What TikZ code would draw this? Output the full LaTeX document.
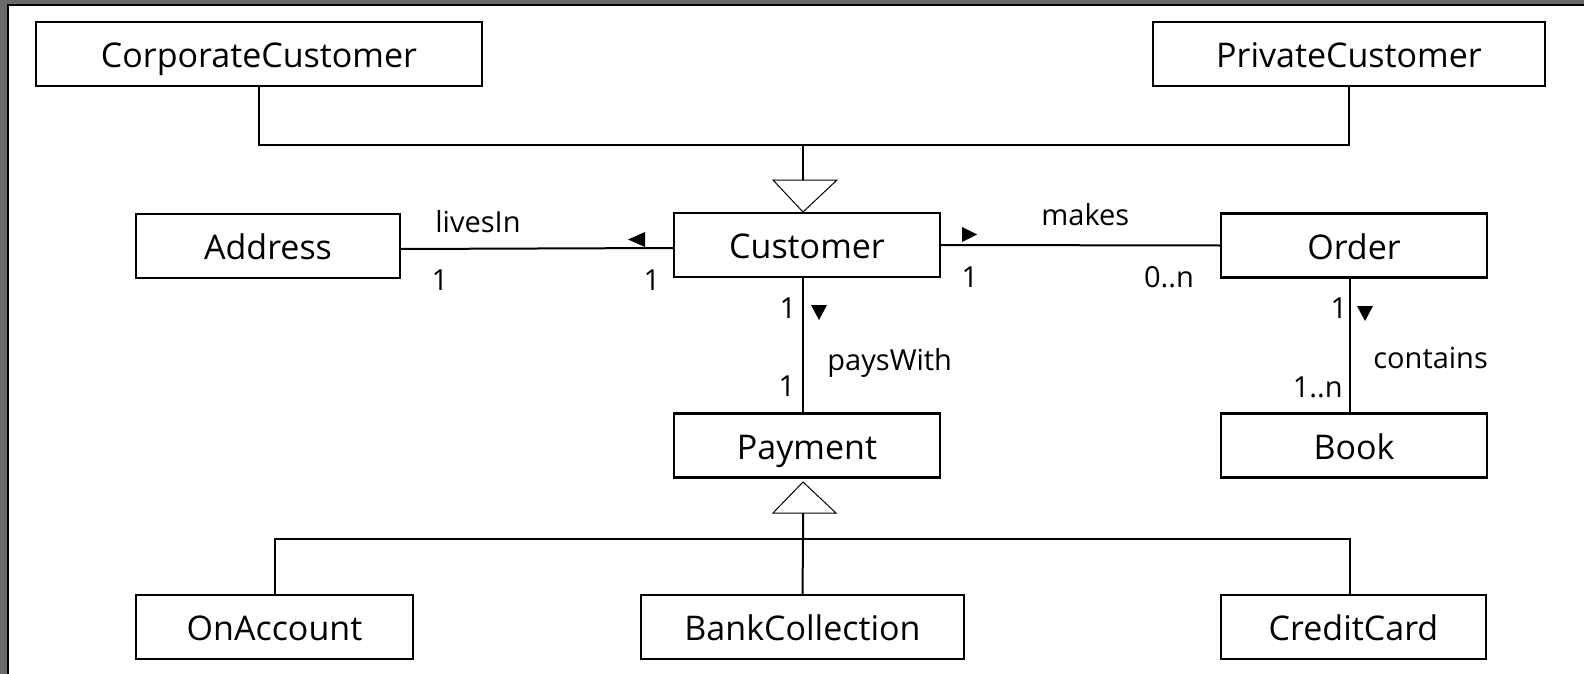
\documentclass[tikz,border=0pt]{standalone}
\usepackage{fontspec}
\setmainfont{Open Sans}
\definecolor{framegray}{HTML}{6A6A6A}
\begin{document}
\begin{tikzpicture}[x=0.5pt,y=-0.5pt,
  classbox/.style={draw,line width=1.2pt,minimum height=32pt,inner sep=0pt,text height=13.6pt,text depth=0pt,font=\fontsize{17}{20}\selectfont},
  conn/.style={line width=1pt},
  gen/.style={line width=0.5pt,fill=white},
  dirmark/.style={fill=black,draw=none},
  lbl/.style={inner sep=0pt,font=\fontsize{14.5}{17}\selectfont}]
\useasboundingbox (0,0) rectangle (1584,674);
\fill[white] (0,0) rectangle (1584,674);
\fill[framegray] (0,0) rectangle (1584,5);
\fill[framegray] (0,0) rectangle (8,674);
\draw[line width=1pt] (8,674) -- (8,5) -- (1584,5);

% classes
\node[classbox,minimum width=223pt] (corp) at (259,54) {CorporateCustomer};
\node[classbox,minimum width=196pt] (priv) at (1349,54) {PrivateCustomer};
\node[classbox,minimum width=132pt] (address) at (268,246) {Address};
\node[classbox,minimum width=133pt] (customer) at (807,245) {Customer};
\node[classbox,minimum width=133pt] (order) at (1354,245.5) {Order};
\node[classbox,minimum width=133pt] (payment) at (807,445.5) {Payment};
\node[classbox,minimum width=133pt] (book) at (1354,445.5) {Book};
\node[classbox,minimum width=138.5pt] (onacc) at (274.5,627) {OnAccount};
\node[classbox,minimum width=161.5pt] (bank) at (802.5,627) {BankCollection};
\node[classbox,minimum width=132.5pt] (credit) at (1353.5,627) {CreditCard};

% generalisation Customer
\coordinate (hubA) at (803,144.5);
\coordinate (triAbase) at (803,180);
\draw[conn] (corp.south) |- (hubA) -| (priv.south);
\draw[conn] (hubA) -- (triAbase);
\draw[gen] (773,180) -- (837,180) -- (803,212) -- cycle;

% generalisation Payment
\coordinate (hubB) at (803,539);
\coordinate (triBbase) at (803,513);
\draw[gen] (773,513) -- (836,513) -- (803,482) -- cycle;
\draw[conn] (triBbase) -- (hubB) -- (bank.north);
\draw[conn] (onacc.north) |- (hubB) -| ([xshift=-1.75pt]credit.north);

% associations
\draw[conn] ([yshift=-1.5pt]address.east) -- ([yshift=-1.5pt]customer.west);
\draw[conn] (customer.east) -- (order.west);
\draw[conn] ([xshift=-2pt]customer.south) -- ([xshift=-2pt]payment.north);
\draw[conn] ([xshift=-2pt]order.south) -- ([xshift=-2pt]book.north);

% direction marks
\fill[dirmark] (645,232) -- (645,247) -- (628,239.5) -- cycle;
\fill[dirmark] (962,227) -- (962,242) -- (977,234.5) -- cycle;
\fill[dirmark] (811,305) -- (827,305) -- (819,320) -- cycle;
\fill[dirmark] (1357,306) -- (1373,306) -- (1365,321) -- cycle;

% labels
\node[lbl,anchor=base west] (l1) at (435,232) {livesIn};
\node[lbl,anchor=base] (l2) at (440,290) {1};
\node[lbl,anchor=base] (l3) at (652,290) {1};
\node[lbl,anchor=base west] (l4) at (1041,225) {makes};
\node[lbl,anchor=base] (l5) at (970,287) {1};
\node[lbl,anchor=base] (l6) at (1169,287) {0..n};
\node[lbl,anchor=base] (l7) at (788,318) {1};
\node[lbl,anchor=base west] (l8) at (827,370) {paysWith};
\node[lbl,anchor=base] (l9) at (787,396) {1};
\node[lbl,anchor=base] (l10) at (1339,318) {1};
\node[lbl,anchor=base west] (l11) at (1373,368) {contains};
\node[lbl,anchor=base east] (l12) at (1343,397) {1..n};
\end{tikzpicture}
\end{document}
